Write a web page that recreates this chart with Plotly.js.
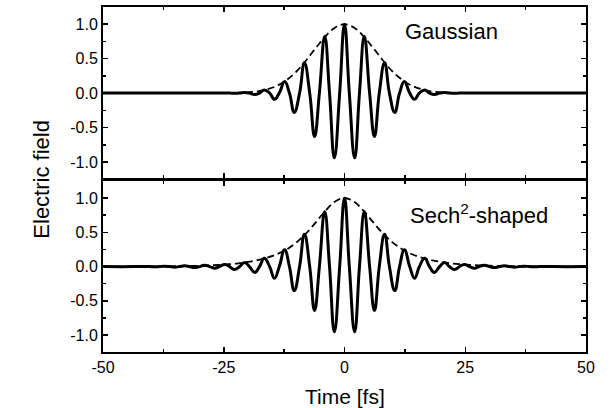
<!DOCTYPE html>
<html>
<head>
<meta charset="utf-8">
<script src="https://cdn.plot.ly/plotly-3.0.1.min.js"></script>
<style>html,body{margin:0;padding:0;background:#fff;}#chart{width:611px;height:408px;}</style>
</head>
<body>
<div id="chart"></div>
<script>
// ---- Data ----
// Upper panel: Gaussian pulse (field oscillation, points at extrema and zero crossings)
const tGauss = [-50, -28, -24.8, -23.8, -22.8, -21.7, -20.7, -19.7, -18.6, -17.6, -16.6, -15.5, -14.5, -13.5, -12.4, -11.4, -10.4, -9.3, -8.3, -7.2, -6.2, -5.2, -4.1, -3.1, -2.1, -1.0,
  0,
  1.0, 2.1, 3.1, 4.1, 5.2, 6.2, 7.2, 8.3, 9.3, 10.4, 11.4, 12.4, 13.5, 14.5, 15.5, 16.6, 17.6, 18.6, 19.7, 20.7, 21.7, 22.8, 23.8, 24.8, 28, 50];
const fieldGauss = [0, 0, 0.001, 0, -0.003, 0, 0.008, 0, -0.02, 0, 0.045, 0, -0.09, 0, 0.17, 0, -0.28, 0, 0.44, 0, -0.63, 0, 0.82, 0, -0.94, 0,
  1.0,
  0, -0.94, 0, 0.82, 0, -0.63, 0, 0.44, 0, -0.28, 0, 0.17, 0, -0.09, 0, 0.045, 0, -0.02, 0, 0.008, 0, -0.003, 0, 0.001, 0, 0];
// Upper panel: envelope (dashed)
const tEnvGauss = [-50, -24, -22, -20, -18, -16, -14, -12, -10, -8, -6, -4, -2, 0, 2, 4, 6, 8, 10, 12, 14, 16, 18, 20, 22, 24, 50];
const envGauss = [0, 0.002, 0.004, 0.01, 0.025, 0.055, 0.105, 0.19, 0.31, 0.47, 0.65, 0.82, 0.95, 1.0, 0.95, 0.82, 0.65, 0.47, 0.31, 0.19, 0.105, 0.055, 0.025, 0.01, 0.004, 0.002, 0];

// Lower panel: Sech^2-shaped pulse
const tSech = [-50, -43.5, -41.4, -40.4, -39.3, -38.3, -37.3, -36.2, -35.2, -34.2, -33.1, -32.1, -31.1, -30.0, -29.0, -27.9, -26.9, -25.9, -24.8, -23.8, -22.8, -21.7, -20.7, -19.7, -18.6, -17.6, -16.6, -15.5, -14.5, -13.5, -12.4, -11.4, -10.4, -9.3, -8.3, -7.2, -6.2, -5.2, -4.1, -3.1, -2.1, -1.0,
  0,
  1.0, 2.1, 3.1, 4.1, 5.2, 6.2, 7.2, 8.3, 9.3, 10.4, 11.4, 12.4, 13.5, 14.5, 15.5, 16.6, 17.6, 18.6, 19.7, 20.7, 21.7, 22.8, 23.8, 24.8, 25.9, 26.9, 27.9, 29.0, 30.0, 31.1, 32.1, 33.1, 34.2, 35.2, 36.2, 37.3, 38.3, 39.3, 40.4, 41.4, 43.5, 50];
const fieldSech = [0, 0, 0.003, 0, -0.004, 0, 0.006, 0, -0.008, 0, 0.011, 0, -0.015, 0, 0.02, 0, -0.024, 0, 0.032, 0, -0.043, 0, 0.06, 0, -0.085, 0, 0.12, 0, -0.17, 0, 0.245, 0, -0.35, 0, 0.47, 0, -0.64, 0, 0.80, 0, -0.95, 0,
  1.0,
  0, -0.95, 0, 0.80, 0, -0.64, 0, 0.47, 0, -0.35, 0, 0.245, 0, -0.17, 0, 0.12, 0, -0.085, 0, 0.06, 0, -0.043, 0, 0.032, 0, -0.024, 0, 0.02, 0, -0.015, 0, 0.011, 0, -0.008, 0, 0.006, 0, -0.004, 0, 0.003, 0, 0];
const tEnvSech = [-50, -40, -35, -30, -28, -26, -24, -22, -20, -18, -16, -14, -12, -10, -8, -6, -4, -2, 0, 2, 4, 6, 8, 10, 12, 14, 16, 18, 20, 22, 24, 26, 28, 30, 35, 40, 50];
const envSech = [0, 0.002, 0.005, 0.012, 0.017, 0.024, 0.034, 0.048, 0.068, 0.095, 0.13, 0.18, 0.25, 0.35, 0.48, 0.64, 0.81, 0.945, 1.0, 0.945, 0.81, 0.64, 0.48, 0.35, 0.25, 0.18, 0.13, 0.095, 0.068, 0.048, 0.034, 0.024, 0.017, 0.012, 0.005, 0.002, 0];

// Tick labels
const xTickVals = [-50, -25, 0, 25, 50];
const xTickText = ['-50', '-25', '0', '25', '50'];
const yTickVals = [-1.0, -0.5, 0.0, 0.5, 1.0];
const yTickText = ['-1.0', '-0.5', '0.0', '0.5', '1.0'];
const xMinorVals = [-37.5, -12.5, 12.5, 37.5];
const yMinorVals = [-0.75, -0.25, 0.25, 0.75];

const panelLabels = ['Gaussian', 'Sech<sup>2</sup>-shaped'];
const xTitle = 'Time [fs]';
const yTitle = 'Electric field';

// ---- Styles ----
const FONT = 'Liberation Sans, Arial, Helvetica, sans-serif';
const solid = {color: 'black', width: 3, shape: 'spline', smoothing: 1.3};
const dashed = {color: 'black', width: 1.8, dash: '7px,4px', shape: 'spline', smoothing: 1};

const traces = [
  {x: tEnvGauss, y: envGauss, xaxis: 'x2', yaxis: 'y2', mode: 'lines', line: dashed, hoverinfo: 'skip'},
  {x: tGauss, y: fieldGauss, xaxis: 'x2', yaxis: 'y2', mode: 'lines', line: solid, hoverinfo: 'skip'},
  {x: tEnvSech, y: envSech, xaxis: 'x', yaxis: 'y', mode: 'lines', line: dashed, hoverinfo: 'skip'},
  {x: tSech, y: fieldSech, xaxis: 'x', yaxis: 'y', mode: 'lines', line: solid, hoverinfo: 'skip'}
];

function xAxis(extra) {
  return Object.assign({
    range: [-50, 50], tickmode: 'array', tickvals: xTickVals, ticktext: xTickText,
    ticks: 'inside', ticklen: 5, tickwidth: 1.5, tickcolor: 'black',
    showline: true, linewidth: 2, linecolor: 'black', mirror: 'ticks',
    showgrid: false, zeroline: false,
    minor: {tickmode: 'array', tickvals: xMinorVals, ticks: 'inside', ticklen: 3, tickwidth: 1.5, tickcolor: 'black', showgrid: false},
    tickfont: {family: FONT, size: 16, color: 'black'}
  }, extra);
}
function yAxis(extra) {
  return Object.assign({
    tickmode: 'array', tickvals: yTickVals, ticktext: yTickText,
    ticks: 'inside', ticklen: 5, tickwidth: 1.5, tickcolor: 'black',
    showline: true, linewidth: 2, linecolor: 'black', mirror: 'ticks',
    showgrid: false, zeroline: false,
    minor: {tickmode: 'array', tickvals: yMinorVals, ticks: 'inside', ticklen: 3, tickwidth: 1.5, tickcolor: 'black', showgrid: false},
    tickfont: {family: FONT, size: 16, color: 'black'}
  }, extra);
}

const layout = {
  width: 611, height: 408,
  margin: {l: 103, r: 25, t: 7, b: 56},
  paper_bgcolor: 'white', plot_bgcolor: 'white',
  showlegend: false,
  font: {family: FONT, size: 16, color: 'black'},
  xaxis: xAxis({anchor: 'y', domain: [0, 1]}),
  xaxis2: xAxis({anchor: 'y2', domain: [0, 1], matches: 'x', showticklabels: false}),
  yaxis: yAxis({anchor: 'x', domain: [0, 0.4971], range: [-1.245, 1.255]}),
  yaxis2: yAxis({anchor: 'x2', domain: [0.5029, 1], range: [-1.24, 1.25]}),
  annotations: [
    {text: panelLabels[0], xref: 'paper', yref: 'paper', x: 0.621, y: 0.93, xanchor: 'left', yanchor: 'middle', showarrow: false, font: {family: FONT, size: 22, color: 'black'}},
    {text: panelLabels[1], xref: 'paper', yref: 'paper', x: 0.631, y: 0.40, xanchor: 'left', yanchor: 'middle', showarrow: false, font: {family: FONT, size: 22, color: 'black'}},
    {text: xTitle, xref: 'paper', yref: 'paper', x: 0.5, y: -0.13, xanchor: 'center', yanchor: 'middle', showarrow: false, font: {family: FONT, size: 21, color: 'black'}},
    {text: yTitle, xref: 'paper', yref: 'paper', x: -0.128, y: 0.5, xanchor: 'center', yanchor: 'middle', textangle: -90, showarrow: false, font: {family: FONT, size: 22, color: 'black'}}
  ]
};

Plotly.newPlot('chart', traces, layout, {staticPlot: true, displayModeBar: false});
</script>
</body>
</html>
